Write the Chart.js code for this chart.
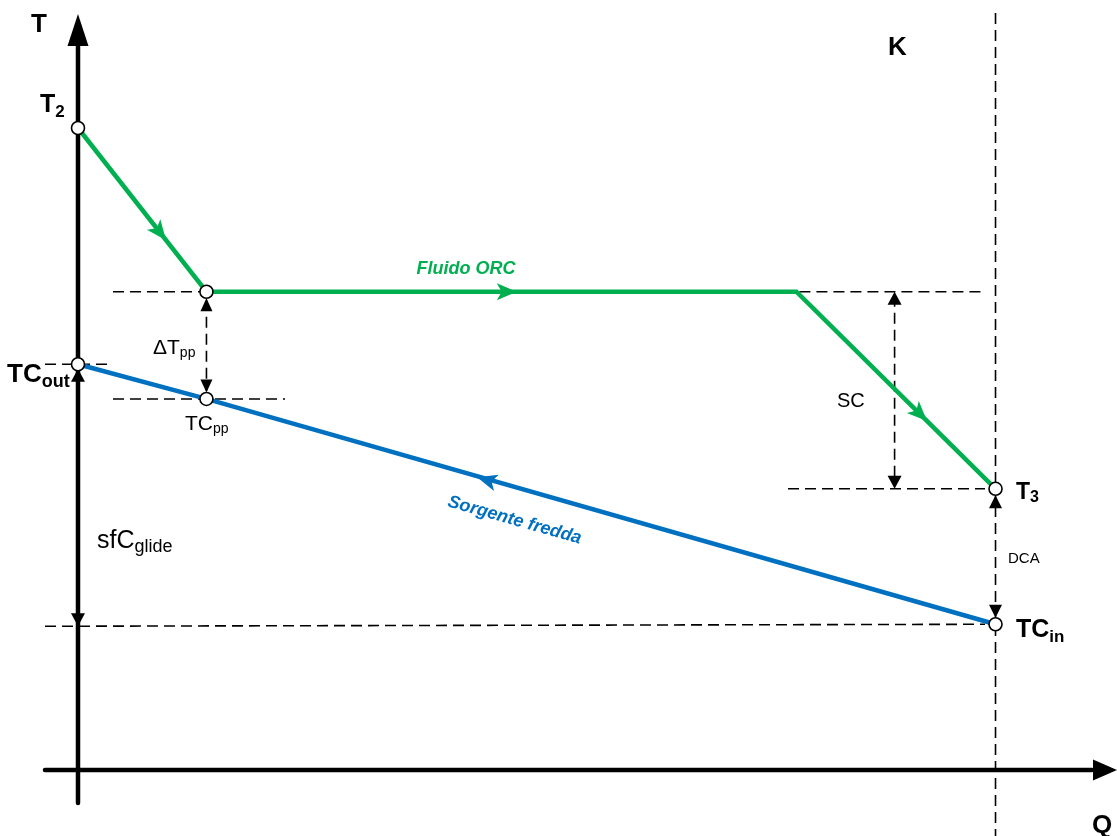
<!DOCTYPE html>
<html>
<head>
<meta charset="utf-8">
<title>Diagramma T-Q del condensatore</title>
<script src="https://cdn.jsdelivr.net/npm/chart.js@4/dist/chart.umd.min.js"></script>
<style>
  html, body { margin: 0; padding: 0; background: #ffffff; }
  canvas { display: block; }
</style>
</head>
<body>
<canvas id="tq" width="1117" height="836"></canvas>
<script>
// Heat exchanged Q (relative, 0 = condenser outlet of the cold source, 100 = K)
// and temperature T (relative units) at the state points.
const orcQ  = [0, 14, 78.3, 100];          // T2, pinch, end of condensation, T3
const orcT  = [100, 74.5, 74.5, 43.8];
const coldQ = [0, 14, 100];                // TCout, TCpp, TCin
const coldT = [63.2, 57.8, 22.7];
const scQ   = 89;                          // where the SC span is dimensioned

const GREEN = '#00B050';
const BLUE  = '#0070C0';
const FONT  = '"Liberation Sans", Arial, sans-serif';

const T2 = orcT[0], Tpp = orcT[1], T3 = orcT[3];
const TCout = coldT[0], TCpp = coldT[1], TCin = coldT[2];
const Qpp = orcQ[1], Qbend = orcQ[2], Qk = orcQ[3];

function head(ctx, tx, ty, ux, uy, len, half) {
  // filled arrowhead with its tip at (tx,ty) pointing along (ux,uy)
  const bx = tx - ux * len, by = ty - uy * len;
  ctx.beginPath();
  ctx.moveTo(tx, ty);
  ctx.lineTo(bx - uy * half, by + ux * half);
  ctx.lineTo(bx + uy * half, by - ux * half);
  ctx.closePath();
  ctx.fill();
}

function flowHead(ctx, tx, ty, ux, uy, len, half) {
  // arrowhead with a shallow notch at its back
  const bx = tx - ux * len, by = ty - uy * len;
  const nx = tx - ux * len * 0.75, ny = ty - uy * len * 0.75;
  ctx.beginPath();
  ctx.moveTo(tx, ty);
  ctx.lineTo(bx - uy * half, by + ux * half);
  ctx.lineTo(nx, ny);
  ctx.lineTo(bx + uy * half, by - ux * half);
  ctx.closePath();
  ctx.fill();
}

function segArrow(ctx, x1, y1, x2, y2, frac, color) {
  const dx = x2 - x1, dy = y2 - y1, d = Math.hypot(dx, dy);
  ctx.fillStyle = color;
  flowHead(ctx, x1 + dx * frac, y1 + dy * frac, dx / d, dy / d, 20, 8.5);
}

function subText(ctx, main, sub, x, base, mainFont, subFont, drop, color) {
  ctx.fillStyle = color || '#000';
  ctx.font = mainFont;
  ctx.fillText(main, x, base);
  const w = ctx.measureText(main).width;
  if (sub) {
    ctx.font = subFont;
    ctx.fillText(sub, x + w, base + drop);
  }
}

const schematic = {
  id: 'schematic',
  beforeDatasetsDraw(chart) {
    const { ctx, scales: { x, y } } = chart;
    const px = q => x.getPixelForValue(q);
    const py = t => y.getPixelForValue(t);
    ctx.save();
    ctx.lineCap = 'butt';

    // dashed guide lines
    ctx.strokeStyle = '#000';
    ctx.lineWidth = 1.6;
    ctx.setLineDash([11, 6]);
    const dash = (x1, y1, x2, y2) => {
      ctx.beginPath(); ctx.moveTo(x1, y1); ctx.lineTo(x2, y2); ctx.stroke();
    };
    dash(px(Qk), 13, px(Qk), 836);                       // line K
    dash(113, py(Tpp), px(Qpp), py(Tpp));
    dash(px(Qbend) + 3, py(Tpp), 983, py(Tpp));
    dash(45, py(TCout), 110, py(TCout));
    dash(113, py(TCpp), 285, py(TCpp));
    dash(788, py(T3), 985, py(T3));
    dash(45, py(TCin) + 2, 985, py(TCin));
    dash(px(Qpp), py(Tpp) + 8, px(Qpp), py(TCpp) - 8);  // ΔTpp
    dash(px(scQ), py(Tpp) + 4, px(scQ), py(T3) - 4);    // SC
    ctx.setLineDash([]);

    // axes
    ctx.lineWidth = 4.5;
    ctx.lineCap = 'round';
    ctx.fillStyle = '#000';
    const ox = px(0), oy = py(0);
    ctx.beginPath(); ctx.moveTo(ox, 803); ctx.lineTo(ox, 40); ctx.stroke();
    head(ctx, ox, 14, 0, -1, 32, 10.5);
    ctx.beginPath(); ctx.moveTo(45, oy); ctx.lineTo(1092, oy); ctx.stroke();
    head(ctx, 1117, oy, 1, 0, 24, 10.5);

    // dimension arrowheads
    const r = 6.5;
    head(ctx, px(Qpp), py(Tpp) + r, 0, -1, 13, 6);
    head(ctx, px(Qpp), py(TCpp) - r, 0, 1, 13, 6);
    head(ctx, px(scQ), py(Tpp), 0, -1, 13, 7);
    head(ctx, px(scQ), py(T3), 0, 1, 13, 7);
    head(ctx, px(Qk), py(T3) + r, 0, -1, 13, 6.5);
    head(ctx, px(Qk), py(TCin) - r, 0, 1, 13, 6.5);
    head(ctx, px(0), py(TCout) + r - 2, 0, -1, 13, 7);
    head(ctx, px(0), py(TCin) + 2, 0, 1, 13, 7);
    ctx.restore();
  },
  afterDatasetsDraw(chart) {
    const { ctx, scales: { x, y } } = chart;
    const px = q => x.getPixelForValue(q);
    const py = t => y.getPixelForValue(t);
    ctx.save();

    // flow direction arrows
    segArrow(ctx, px(orcQ[0]), py(orcT[0]), px(orcQ[1]), py(orcT[1]), 0.685, GREEN);
    segArrow(ctx, px(orcQ[1]), py(orcT[1]), px(orcQ[2]), py(orcT[2]), 0.526, GREEN);
    segArrow(ctx, px(orcQ[2]), py(orcT[2]), px(orcQ[3]), py(orcT[3]), 0.656, GREEN);
    segArrow(ctx, px(coldQ[2]), py(coldT[2]), px(coldQ[0]), py(coldT[0]), 0.565, BLUE);

    ctx.textBaseline = 'alphabetic';
    ctx.textAlign = 'left';
    const B = s => 'bold ' + s + 'px ' + FONT;
    const R = s => s + 'px ' + FONT;

    subText(ctx, 'T', '', 31, 32, B(26));
    subText(ctx, 'Q', '', 1092, 833, B(26));
    subText(ctx, 'K', '', 888, 55, B(26));
    subText(ctx, 'T', '2', 40, 112, B(25), B(17), 5);
    subText(ctx, 'TC', 'out', 7, 382, B(26), B(18), 5);
    subText(ctx, '\u0394T', 'pp', 153, 354, R(21), R(14), 3);
    subText(ctx, 'TC', 'pp', 185, 430, R(21), R(14), 3);
    subText(ctx, 'sfC', 'glide', 97, 548, R(25), R(18), 4);
    subText(ctx, 'SC', '', 837, 407, R(20));
    subText(ctx, 'T', '3', 1016, 499, B(23), B(16), 3);
    subText(ctx, 'DCA', '', 1008, 563, R(15));
    subText(ctx, 'TC', 'in', 1016, 637, B(25), B(17), 5);

    // stream names
    ctx.fillStyle = GREEN;
    ctx.font = 'italic bold 18px ' + FONT;
    ctx.textAlign = 'center';
    ctx.fillText('Fluido ORC', 466, py(Tpp) - 18);

    const x1 = px(coldQ[0]), y1 = py(coldT[0]), x2 = px(coldQ[2]), y2 = py(coldT[2]);
    const ang = Math.atan2(y2 - y1, x2 - x1);
    const t = 0.485;
    const cx = x1 + (x2 - x1) * t - Math.sin(ang) * 31;
    const cy = y1 + (y2 - y1) * t + Math.cos(ang) * 31;
    ctx.translate(cx, cy);
    ctx.rotate(ang);
    ctx.fillStyle = BLUE;
    ctx.textBaseline = 'middle';
    ctx.fillText('Sorgente fredda', 0, 0);
    ctx.restore();
  }
};

const pt = (qs, ts) => qs.map((q, i) => ({ x: q, y: ts[i] }));

new Chart(document.getElementById('tq'), {
  type: 'scatter',
  data: {
    datasets: [
      {
        label: 'Fluido ORC',
        data: pt(orcQ, orcT),
        showLine: true,
        borderColor: GREEN,
        borderWidth: 4.5,
        pointRadius: [6.5, 6.5, 0, 6.5],
        pointBackgroundColor: '#ffffff',
        pointBorderColor: '#000000',
        pointBorderWidth: 1.6
      },
      {
        label: 'Sorgente fredda',
        data: pt(coldQ, coldT),
        showLine: true,
        borderColor: BLUE,
        borderWidth: 4.5,
        pointRadius: 6.5,
        pointBackgroundColor: '#ffffff',
        pointBorderColor: '#000000',
        pointBorderWidth: 1.6
      }
    ]
  },
  options: {
    responsive: false,
    devicePixelRatio: 1,
    animation: false,
    clip: false,
    layout: { padding: 0, autoPadding: false },
    plugins: { legend: { display: false }, tooltip: { enabled: false }, title: { display: false } },
    scales: {
      x: { type: 'linear', display: false, min: -8.501, max: 113.24 },
      y: { type: 'linear', display: false, min: -10.28, max: 119.94 }
    }
  },
  plugins: [schematic]
});
</script>
</body>
</html>
